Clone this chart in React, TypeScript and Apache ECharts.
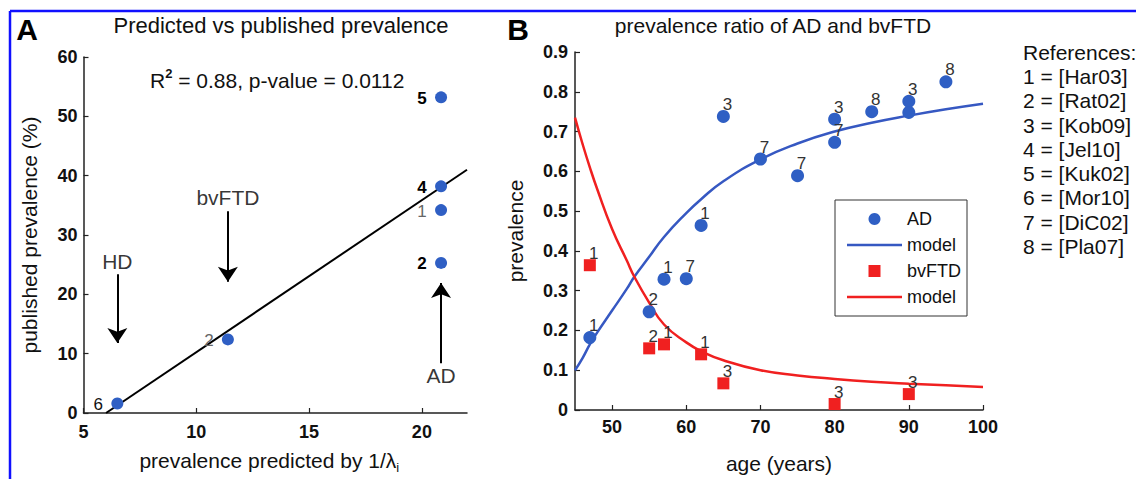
import React, { useEffect, useRef } from "react";
import * as echarts from "echarts";

const FONT = "'Liberation Sans', Arial, Helvetica, sans-serif";

// ---- Panel A: predicted vs published prevalence ----
const predictedX = [6.5, 11.4, 20.85, 20.85, 20.85, 20.85];
const publishedY = [1.6, 12.4, 53.2, 38.2, 34.2, 25.3];
const publishedRefs = ["6", "2", "5", "4", "1", "2"];
const publishedRefTone = ["plain", "muted", "strong", "strong", "muted", "strong"];
const fitX = [6.0, 22];
const fitY = [0, 41];
const annotationText = ["HD", "bvFTD", "AD"];
const annotationX = [6.5, 11.4, 20.85];
const annotationY = [25.5, 36.3, 6.4];
const arrowFromY = [23.4, 34.0, 8.4];
const arrowToY = [11.8, 22.1, 21.9];
const aTicksX = [5, 10, 15, 20];

// ---- Panel B: prevalence ratio of AD and bvFTD ----
const adAge = [47, 55, 57, 60, 62, 65, 70, 75, 80, 80, 85, 90, 90, 95];
const adPrev = [0.182, 0.247, 0.329, 0.33, 0.464, 0.738, 0.631, 0.589, 0.731, 0.673, 0.75, 0.776, 0.748, 0.825];
const adRefs = ["1", "2", "1", "7", "1", "3", "7", "7", "3", "7", "8", "3", "", "8"];
const ftdAge = [47, 55, 57, 62, 65, 80, 90];
const ftdPrev = [0.364, 0.155, 0.165, 0.14, 0.067, 0.015, 0.04];
const ftdRefs = ["1", "2", "1", "1", "3", "3", "3"];
const modelAge = [45, 46, 47, 48, 50, 52, 53, 55, 57, 60, 62, 65, 70, 75, 80, 85, 90, 95, 100];
const adModel = [0.1, 0.13, 0.165, 0.195, 0.25, 0.305, 0.335, 0.385, 0.435, 0.495, 0.53, 0.575, 0.63, 0.67, 0.7, 0.722, 0.74, 0.756, 0.77];
const ftdModel = [0.735, 0.67, 0.61, 0.555, 0.455, 0.375, 0.335, 0.27, 0.215, 0.17, 0.148, 0.125, 0.1, 0.087, 0.078, 0.071, 0.066, 0.062, 0.058];
const bTicksX = [50, 60, 70, 80, 90, 100];

const referenceLines = [
  "References:",
  "1 = [Har03]",
  "2 = [Rat02]",
  "3 = [Kob09]",
  "4 = [Jel10]",
  "5 = [Kuk02]",
  "6 = [Mor10]",
  "7 = [DiC02]",
  "8 = [Pla07]",
];

const BLUE = "#2f5fc4";
const BLUE_LINE = "#3658c2";
const RED = "#f02020";
const AXIS = "#222";

const LINE_ICON = "path://M0,0L55,0L55,2.6L0,2.6Z";
const SQUARE_ICON = "path://M0,0L10,0L10,10L0,10Z";

const toneStyle: Record<string, any> = {
  plain: { color: "#111", fontWeight: "normal" },
  muted: { color: "#666", fontWeight: "normal" },
  strong: { color: "#000", fontWeight: "bold" },
};

function axisCommon() {
  return {
    type: "value" as const,
    splitLine: { show: false },
    axisLine: { show: true, onZero: false, lineStyle: { color: AXIS, width: 1.5 } },
    axisTick: { show: true, inside: true, length: 5, lineStyle: { color: AXIS, width: 1.2 } },
    axisLabel: { color: "#111", fontSize: 18, fontWeight: "bold", fontFamily: FONT },
    nameTextStyle: { color: "#111", fontSize: 21, fontFamily: FONT },
    nameLocation: "middle" as const,
  };
}

export default function App() {
  const ref = useRef<HTMLDivElement>(null);

  useEffect(() => {
    if (!ref.current) return;
    const chart = echarts.init(ref.current, undefined, { renderer: "svg" });
    const c = axisCommon();

    const option: any = {
      animation: false,
      textStyle: { fontFamily: FONT },
      grid: [
        { left: 83.5, top: 57, width: 383.5, height: 356 },
        { left: 575, top: 52, width: 408, height: 361 },
      ],
      xAxis: [
        {
          ...c,
          gridIndex: 0,
          min: 5,
          max: 22,
          axisTick: { ...c.axisTick, customValues: aTicksX },
          axisLabel: { ...c.axisLabel, margin: 10, customValues: aTicksX },
          name: "{n|prevalence predicted by 1/λ}{sub|i}",
          nameGap: 33,
          nameTextStyle: {
            ...c.nameTextStyle,
            padding: [0, 12, 0, 0],
            rich: {
              n: { fontSize: 21, lineHeight: 28, fontFamily: FONT, color: "#111" },
              sub: { fontSize: 13, lineHeight: 10, verticalAlign: "bottom", fontFamily: FONT, color: "#111" },
            },
          },
        },
        {
          ...c,
          gridIndex: 1,
          min: 45,
          max: 100,
          axisTick: { ...c.axisTick, customValues: bTicksX },
          axisLabel: { ...c.axisLabel, margin: 8, customValues: bTicksX },
          name: "age (years)",
          nameGap: 43,
        },
      ],
      yAxis: [
        {
          ...c,
          gridIndex: 0,
          min: 0,
          max: 60,
          interval: 10,
          axisLabel: { ...c.axisLabel, margin: 6 },
          name: "published prevalence (%)",
          nameGap: 44,
        },
        {
          ...c,
          gridIndex: 1,
          min: 0,
          max: 0.9,
          interval: 0.1,
          axisLabel: {
            ...c.axisLabel,
            margin: 7,
            formatter: (v: number) => (v === 0 ? "0" : v.toFixed(1)),
          },
          name: "prevalence",
          nameGap: 49,
        },
      ],
      legend: {
        data: [
          { name: "AD", icon: "circle" },
          { name: "AD model", icon: LINE_ICON },
          { name: "bvFTD", icon: SQUARE_ICON },
          { name: "bvFTD model", icon: LINE_ICON },
        ],
        orient: "vertical",
        left: 835,
        top: 200,
        padding: [10, 6, 10, 12],
        itemWidth: 55,
        itemHeight: 12,
        itemGap: 8,
        borderColor: "#333",
        borderWidth: 1,
        backgroundColor: "#fff",
        selectedMode: false,
        symbolKeepAspect: true,
        formatter: (n: string) => (n.endsWith("model") ? "model" : n),
        textStyle: { fontSize: 18, color: "#111", fontFamily: FONT },
      },
      series: [
        {
          name: "fit",
          type: "line",
          xAxisIndex: 0,
          yAxisIndex: 0,
          data: fitX.map((x, i) => [x, fitY[i]]),
          showSymbol: false,
          symbol: "none",
          lineStyle: { color: "#000", width: 2 },
          z: 3,
        },
        {
          name: "published",
          type: "scatter",
          xAxisIndex: 0,
          yAxisIndex: 0,
          symbol: "circle",
          symbolSize: 12,
          itemStyle: { color: BLUE, opacity: 1 },
          data: predictedX.map((x, i) => ({
            value: [x, publishedY[i]],
            label: { ...toneStyle[publishedRefTone[i]] },
          })),
          label: {
            show: true,
            position: "inside",
            offset: [-19, 1],
            fontSize: 17,
            fontFamily: FONT,
            formatter: (p: any) => publishedRefs[p.dataIndex],
          },
          z: 4,
        },
        {
          name: "annotations",
          type: "scatter",
          xAxisIndex: 0,
          yAxisIndex: 0,
          symbolSize: 1,
          itemStyle: { color: "rgba(0,0,0,0)" },
          data: annotationX.map((x, i) => [x, annotationY[i]]),
          label: {
            show: true,
            position: "inside",
            fontSize: 21,
            color: "#000",
            fontFamily: FONT,
            formatter: (p: any) => annotationText[p.dataIndex],
          },
          markLine: {
            silent: true,
            animation: false,
            symbol: ["none", "arrow"],
            symbolSize: 15,
            label: { show: false },
            lineStyle: { color: "#000", width: 2, type: "solid" },
            data: annotationX.map((x, i) => [
              { coord: [x, arrowFromY[i]] },
              { coord: [x, arrowToY[i]] },
            ]),
          },
        },
        {
          name: "AD model",
          type: "line",
          xAxisIndex: 1,
          yAxisIndex: 1,
          data: modelAge.map((a, i) => [a, adModel[i]]),
          smooth: true,
          showSymbol: false,
          symbol: "none",
          lineStyle: { color: BLUE_LINE, width: 2.5 },
          itemStyle: { color: BLUE_LINE },
          z: 2,
        },
        {
          name: "bvFTD model",
          type: "line",
          xAxisIndex: 1,
          yAxisIndex: 1,
          data: modelAge.map((a, i) => [a, ftdModel[i]]),
          smooth: true,
          showSymbol: false,
          symbol: "none",
          lineStyle: { color: RED, width: 2.5 },
          itemStyle: { color: RED },
          z: 2,
        },
        {
          name: "AD",
          type: "scatter",
          xAxisIndex: 1,
          yAxisIndex: 1,
          symbol: "circle",
          symbolSize: 13,
          itemStyle: { color: BLUE, opacity: 1 },
          data: adAge.map((a, i) => [a, adPrev[i]]),
          label: {
            show: true,
            position: "inside",
            offset: [4, -12],
            fontSize: 17,
            color: "#333",
            fontFamily: FONT,
            formatter: (p: any) => adRefs[p.dataIndex],
          },
          z: 4,
        },
        {
          name: "bvFTD",
          type: "scatter",
          xAxisIndex: 1,
          yAxisIndex: 1,
          symbol: "rect",
          symbolSize: 12,
          itemStyle: { color: RED, opacity: 1 },
          data: ftdAge.map((a, i) => [a, ftdPrev[i]]),
          label: {
            show: true,
            position: "inside",
            offset: [4, -12],
            fontSize: 17,
            color: "#333",
            fontFamily: FONT,
            formatter: (p: any) => ftdRefs[p.dataIndex],
          },
          z: 4,
        },
      ],
      graphic: [
        { type: "line", shape: { x1: 10, y1: 11, x2: 1136, y2: 11 }, style: { stroke: "#1010ff", lineWidth: 2.5 } },
        { type: "line", shape: { x1: 10, y1: 11, x2: 10, y2: 479 }, style: { stroke: "#1010ff", lineWidth: 2.5 } },
        {
          type: "text",
          x: 27,
          y: 29,
          style: { text: "A", fontSize: 30, fontWeight: "bold", fontFamily: FONT, fill: "#000", align: "center", verticalAlign: "middle" },
        },
        {
          type: "text",
          x: 518,
          y: 29,
          style: { text: "B", fontSize: 30, fontWeight: "bold", fontFamily: FONT, fill: "#000", align: "center", verticalAlign: "middle" },
        },
        {
          type: "text",
          x: 281,
          y: 25,
          style: { text: "Predicted vs published prevalence", fontSize: 22, fontFamily: FONT, fill: "#111", align: "center", verticalAlign: "middle" },
        },
        {
          type: "text",
          x: 773,
          y: 25,
          style: { text: "prevalence ratio of AD and bvFTD", fontSize: 21, fontFamily: FONT, fill: "#111", align: "center", verticalAlign: "middle" },
        },
        {
          type: "text",
          x: 150,
          y: 80,
          style: {
            text: "{r|R}{s|2}{r| = 0.88, p-value = 0.0112}",
            align: "left",
            verticalAlign: "middle",
            rich: {
              r: { fontSize: 21, lineHeight: 26, fontFamily: FONT, fill: "#111" },
              s: { fontSize: 13, lineHeight: 12, verticalAlign: "top", fontFamily: FONT, fill: "#111", fontWeight: "bold" },
            },
          },
        },
        {
          type: "text",
          x: 1023,
          y: 40,
          style: {
            text: referenceLines.join("\n"),
            fontSize: 21,
            lineHeight: 24.3,
            fontFamily: FONT,
            fill: "#111",
            align: "left",
            verticalAlign: "top",
          },
        },
      ],
    };

    chart.setOption(option);
    return () => chart.dispose();
  }, []);

  return (
    <div
      ref={ref}
      style={{ position: "absolute", left: 0, top: 0, width: 1136, height: 479, background: "#fff" }}
    />
  );
}
